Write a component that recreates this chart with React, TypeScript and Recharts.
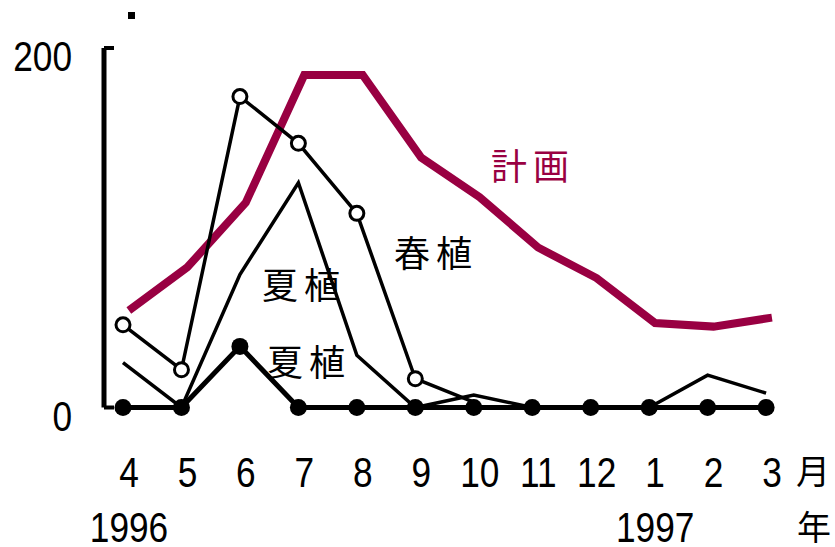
import { LineChart, Line, XAxis, YAxis, Customized } from "recharts";

// 月別の植付面積（1996年4月〜1997年3月）
const months = ["4", "5", "6", "7", "8", "9", "10", "11", "12", "1", "2", "3"];
const years: Record<number, string> = { 0: "1996", 9: "1997" };
const plan = [54, 78, 114, 185, 185, 139, 117, 89, 72, 47, 45, 50];
const spring = [46, 21, 173, 147, 108, 16, 3, null, null, null, null, null];
const summer = [25, 0, 74, 125, 29, 0, 7, 0, 0, 0, 18, 8];
const summerDot = [0, 0, 34, 0, 0, 0, 0, 0, 0, 0, 0, 0];
const yTicks = [0, 200];

const data = months.map((m, i) => ({
  i,
  month: m,
  plan: plan[i],
  spring: spring[i],
  summer: summer[i],
  summerDot: summerDot[i],
}));

const X_MIN = -0.325;
const X_MAX = 11.58;
const tickMarks = [0.63, 1.63, 2.63, 3.63, 4.63, 5.63, 6.63, 7.63, 8.63, 9.63, 10.63, X_MAX];
const labelTicks = months.map((_, i) => i);

const MAROON = "#990042";
const FONT = "'Liberation Sans', Arial, sans-serif";
const CJK = "'Noto Sans CJK JP', sans-serif";

// 細長い数字（横方向に縮めて描く）
const NarrowText = ({ x, y, anchor = "middle", children }: any) => (
  <g transform={`translate(${x},${y}) scale(0.82,1)`}>
    <text x={0} y={0} textAnchor={anchor} fontSize={43} fontFamily={FONT} fill="#000">
      {children}
    </text>
  </g>
);

const MonthTick = (props: any) => {
  const { x, y, payload } = props;
  const idx = payload.value as number;
  return (
    <g>
      <NarrowText x={x + 6} y={y + 79}>{months[idx]}</NarrowText>
      {years[idx] && <NarrowText x={x + 6} y={y + 134}>{years[idx]}</NarrowText>}
      {idx === months.length - 1 && (
        <>
          <text x={x + 47} y={y + 76} textAnchor="middle" fontSize={34} fontFamily={CJK} fill="#000">
            月
          </text>
          <text x={x + 48} y={y + 132} textAnchor="middle" fontSize={34} fontFamily={CJK} fill="#000">
            年
          </text>
        </>
      )}
    </g>
  );
};

const ValueTick = (props: any) => {
  const { y, payload } = props;
  return (
    <NarrowText x={72} y={y + 23} anchor="end">
      {payload.value}
    </NarrowText>
  );
};

const SpringDot = (props: any) => {
  const { cx, cy, index } = props;
  if (index > 5 || cy == null) return <g key={`s-${index}`} />;
  return <circle key={`s-${index}`} cx={cx} cy={cy} r={7} fill="#fff" stroke="#000" strokeWidth={3} />;
};

const SeriesLabels = () => (
  <g fontFamily={CJK} fontSize={36}>
    <text x={533} y={180} textAnchor="middle" fill={MAROON} letterSpacing={6}>計画</text>
    <text x={436} y={267} textAnchor="middle" fill="#000" letterSpacing={6}>春植</text>
    <text x={304} y={299} textAnchor="middle" fill="#000" letterSpacing={6}>夏植</text>
    <text x={309} y={376} textAnchor="middle" fill="#000" letterSpacing={6}>夏植</text>
    <rect x={128} y={12} width={7} height={7} fill="#000" />
  </g>
);

export default function App() {
  return (
    <div style={{ position: "absolute", left: 0, top: 0, width: 835, height: 547, background: "#fff" }}>
      <LineChart width={835} height={547} data={data} margin={{ top: 48, right: 35, bottom: 9.5, left: 44 }}>
        <XAxis
          xAxisId="main"
          dataKey="i"
          type="number"
          domain={[X_MIN, X_MAX]}
          ticks={tickMarks}
          tickFormatter={() => ""}
          tickSize={-8}
          height={0}
          axisLine={{ stroke: "#000", strokeWidth: 5 }}
          tickLine={{ stroke: "#000", strokeWidth: 3 }}
        />
        <XAxis
          xAxisId="lbl"
          dataKey="i"
          type="number"
          domain={[X_MIN, X_MAX]}
          ticks={labelTicks}
          axisLine={false}
          tickLine={false}
          tickSize={0}
          tickMargin={0}
          height={130}
          interval={0}
          tick={<MonthTick />}
        />
        <XAxis xAxisId="plan" dataKey="i" type="number" domain={[X_MIN - 0.1, X_MAX - 0.1]} hide />
        <YAxis
          domain={[0, 200]}
          ticks={yTicks}
          width={60}
          tickSize={-10}
          axisLine={{ stroke: "#000", strokeWidth: 5 }}
          tickLine={{ stroke: "#000", strokeWidth: 4 }}
          tick={<ValueTick />}
          interval={0}
        />
        <Line
          xAxisId="plan"
          dataKey="plan"
          stroke={MAROON}
          strokeWidth={8}
          dot={false}
          isAnimationActive={false}
          strokeLinejoin="miter"
        />
        <Line xAxisId="main" dataKey="summer" stroke="#000" strokeWidth={3.5} dot={false} isAnimationActive={false} />
        <Line
          xAxisId="main"
          dataKey="spring"
          stroke="#000"
          strokeWidth={3.5}
          dot={<SpringDot />}
          isAnimationActive={false}
        />
        <Line
          xAxisId="main"
          dataKey="summerDot"
          stroke="#000"
          strokeWidth={5}
          dot={{ r: 8.5, fill: "#000", stroke: "none" }}
          isAnimationActive={false}
        />
        <Customized component={SeriesLabels} />
      </LineChart>
    </div>
  );
}
